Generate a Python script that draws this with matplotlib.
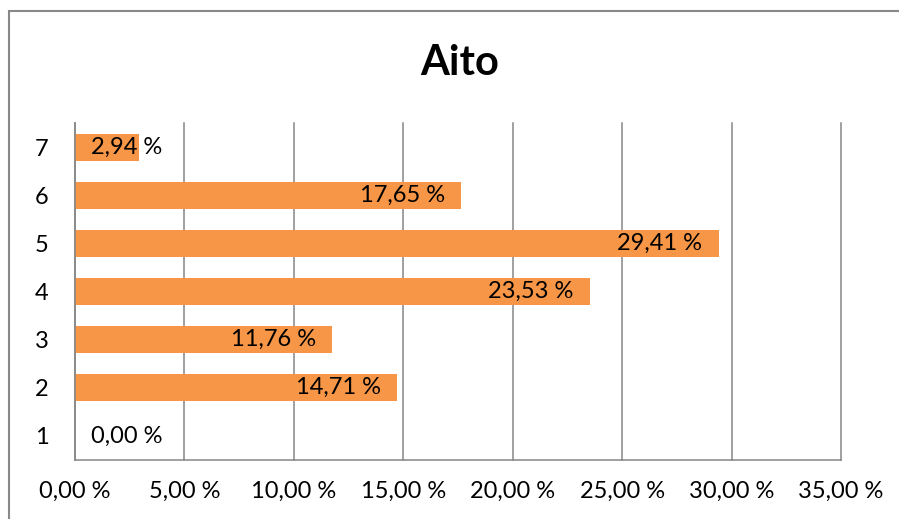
import matplotlib
matplotlib.use('Agg')
import matplotlib.pyplot as plt
from matplotlib.patches import Rectangle

plt.rcParams['font.family'] = ['Lato', 'DejaVu Sans']

title = 'Aito'
categories = ['1', '2', '3', '4', '5', '6', '7']
values = [0.00, 14.71, 11.76, 23.53, 29.41, 17.65, 2.94]
x_ticks = [0, 5, 10, 15, 20, 25, 30, 35]

bar_color = '#F79646'
grid_color = '#868686'

W, H = 899, 519
fig = plt.figure(figsize=(W / 100, H / 100), dpi=100)
ax = fig.add_axes([75 / W, (H - 460) / H, (841 - 75) / W, (460 - 123) / H])

ypos = list(range(len(categories)))
ax.barh(ypos, values, height=0.56, color=bar_color, zorder=3)

ax.set_xlim(0, 35)
ax.set_ylim(-0.5, len(categories) - 0.5)
ax.set_xticks(x_ticks)
ax.set_xticklabels([f'{t:.2f} %'.replace('.', ',') for t in x_ticks])
ax.set_yticks(ypos)
ax.set_yticklabels(categories)
ax.tick_params(axis='x', length=0, pad=15, labelsize=17)
ax.tick_params(axis='y', length=0, labelsize=17)
for lbl in ax.get_yticklabels():
    lbl.set_horizontalalignment('center')
ax.yaxis.set_tick_params(pad=24)

ax.xaxis.grid(True, color=grid_color, linewidth=1.1, zorder=0)
ax.yaxis.grid(False)
for line in ax.get_xgridlines():
    line.set_clip_on(False)
for side in ['top', 'right']:
    ax.spines[side].set_visible(False)
for side in ['left', 'bottom']:
    ax.spines[side].set_color(grid_color)
    ax.spines[side].set_linewidth(1.1)
    ax.spines[side].set_zorder(4)

# data labels, inside end (pushed out to the start when the bar is short)
pad = 0.75
for y, v in zip(ypos, values):
    txt = f'{v:.2f} %'.replace('.', ',')
    if v > 5:
        ax.text(v - pad, y, txt, ha='right', va='center', fontsize=17, zorder=5)
    else:
        ax.text(pad, y, txt, ha='left', va='center', fontsize=17, zorder=5)

fig.text(460 / W, (H - 63) / H, title, ha='center', va='center',
         fontsize=30, fontweight='bold')

# chart outer border (runs past the right/bottom edges of the image)
fig.add_artist(Rectangle((8.5 / W, -0.1), 1.2, (H - 11) / H + 0.1,
                         transform=fig.transFigure, fill=False,
                         edgecolor='#888888', linewidth=1.5))

fig.savefig('out.png', dpi=100)
